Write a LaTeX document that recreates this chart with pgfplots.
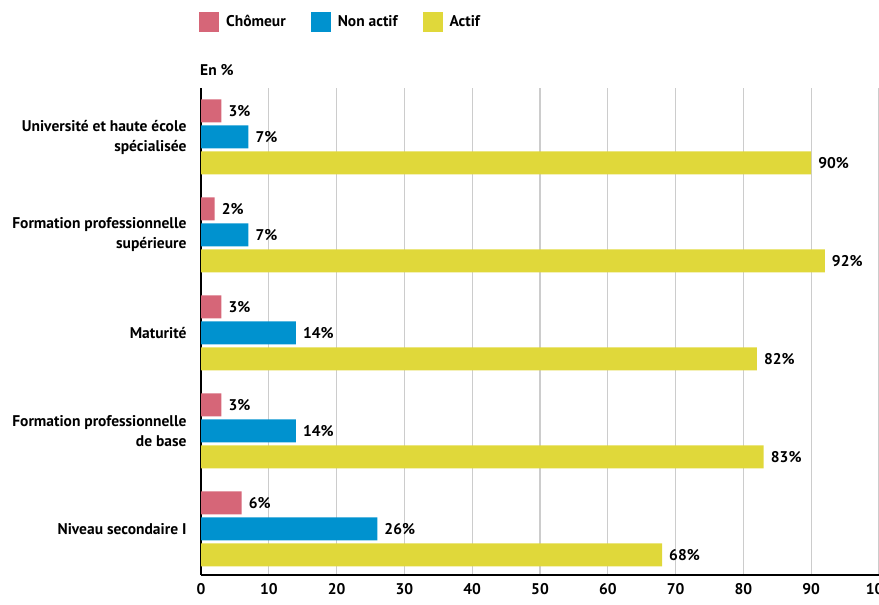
\documentclass[border=0pt]{standalone}
\usepackage{pgfplots}
\pgfplotsset{compat=1.18}
\usepackage{fontspec}
\setmainfont{PT Sans}
\definecolor{cpink}{RGB}{214,102,120}
\definecolor{cblue}{RGB}{0,146,207}
\definecolor{cyellow}{RGB}{224,216,58}
\newcommand{\lf}{\bfseries\fontsize{15.5}{20}\selectfont}
\begin{document}
\begin{tikzpicture}[x=1pt,y=1pt]
\path[use as bounding box] (0,0) rectangle (879,605);
\begin{axis}[
  name=ax,
  at={(201pt,30pt)}, anchor=south west,
  scale only axis, width=678pt, height=487pt,
  xmin=0, xmax=100, ymin=-0.47, ymax=4.5,
  xtick={0,10,...,100},
  ytick={0,1,2,3,4},
  yticklabels={Niveau secondaire I, {Formation professionnelle\\de base}, Maturité, {Formation professionnelle\\supérieure}, {Université et haute école\\spécialisée}},
  font=\lf,
  y tick label style={align=right, font=\lf, xshift=-11pt},
  x tick label style={font=\lf, yshift=-5pt},
  /pgf/number format/assume math mode=true,
  axis x line*=bottom, axis y line*=left,
  axis line style={line width=1.2pt, black},
  xmajorgrids, grid style={black!20, line width=1.2pt},
  major tick length=0pt,
  xbar, bar width=23pt,
  point meta=x,
  nodes near coords={\pgfmathprintnumber{\pgfplotspointmeta}\%},
  every node near coord/.append style={font=\lf, inner sep=0pt, xshift=7pt, anchor=west},
  legend columns=3,
  legend style={at={(rel axis cs:0,1)}, anchor=west, xshift=-2pt, yshift=66pt, draw=none, fill=none, inner sep=0pt,
    font=\lf,
    /tikz/every odd column/.append style={column sep=5pt},
    /tikz/every even column/.append style={column sep=23pt}},
  legend cell align=left,
]
\addplot[fill=cpink, draw=none, bar shift=26pt, legend image code/.code={\fill[cpink] (0pt,-10pt) rectangle (20pt,10pt);}] coordinates {(6,0) (3,1) (3,2) (2,3) (3,4)};
\addplot[fill=cblue, draw=none, bar shift=0pt, legend image code/.code={\fill[cblue] (0pt,-10pt) rectangle (20pt,10pt);}] coordinates {(26,0) (14,1) (14,2) (7,3) (7,4)};
\addplot[fill=cyellow, draw=none, bar shift=-26pt, legend image code/.code={\fill[cyellow] (0pt,-10pt) rectangle (20pt,10pt);}] coordinates {(68,0) (83,1) (82,2) (92,3) (90,4)};
\legend{Chômeur, Non actif\hspace{9pt}, Actif}
\end{axis}
\node[anchor=base west, inner sep=0pt, font=\lf] at ([xshift=-1pt, yshift=12pt]ax.north west) {En \%};
\end{tikzpicture}
\end{document}
